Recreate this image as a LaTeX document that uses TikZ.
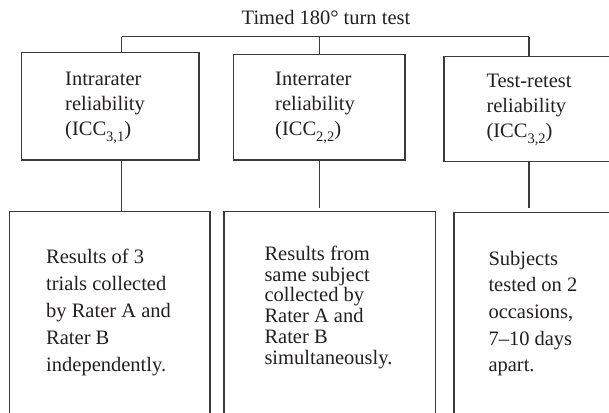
\documentclass[tikz,border=0pt]{standalone}
\usepackage{fontspec}
\setmainfont{Liberation Serif}
\definecolor{linegray}{HTML}{3A3A3A}
\definecolor{textgray}{HTML}{231F20}
% subscripted ICC label
\newcommand\iccsub[1]{(ICC\raisebox{-0.3em}{\fontsize{14.5}{14.5}\selectfont #1})}
% left-aligned text block whose reference point is its first baseline
\newcommand\txtblock[2]{\parbox[t]{170pt}{\raggedright\fontsize{20.5}{#1}\selectfont #2}}
\tikzset{
  box/.style={draw=linegray, line width=1.2pt, inner sep=0pt, outer sep=0pt, anchor=north west},
  lbl/.style={inner sep=0pt, anchor=base west, text=textgray},
  wire/.style={draw=linegray, line width=1.2pt},
}
\begin{document}
\begin{tikzpicture}[x=1pt, y=-1pt]
\clip (0,0) rectangle (609,412);
\fill[white] (0,0) rectangle (609,412);

% title
\node[lbl, anchor=base, font=\fontsize{20.5}{24}\selectfont] (title) at (326,25) {Timed 180° turn test};

% upper boxes
\node[box, minimum width=177.7pt, minimum height=107.3pt] (u1) at (21.3,52.7) {};
\node[box, minimum width=171.3pt, minimum height=105.7pt] (u2) at (233.7,54.3) {};
\node[box, minimum width=170pt,   minimum height=105.4pt] (u3) at (444,56.3) {};

% lower boxes (running off the bottom edge)
\node[box, minimum width=200.7pt, minimum height=230pt] (l1) at (9.3,211.7) {};
\node[box, minimum width=211.7pt, minimum height=230pt] (l2) at (224,211.7) {};
\node[box, minimum width=180pt,   minimum height=230pt] (l3) at (454,212.7) {};

% bus and its junctions
\coordinate (j1) at (121.6,36.7);
\coordinate (j2) at (319.3,36.7);
\coordinate (j3) at (529,36.7);
\draw[wire] (j1) -- (j3);
\draw[wire] (j1) -- (j1 |- u1.north);
\draw[wire] (j2) -- (j2 |- u2.north);
\draw[wire] (j3) -- (j3 |- u3.north);

% stems between the two rows
\coordinate (s1) at (121.2,160);
\coordinate (e2) at (319.3,208.3);
\coordinate (e3) at (529,208.3);
\draw[wire] (s1 |- u1.south) -- (s1 |- l1.north);
\draw[wire] (e2 |- u2.south) -- (e2);
\draw[wire] (e3 |- u3.south) -- (e3);

% upper texts
\node[lbl] (t1) at (65,85)    {\txtblock{25}{Intrarater\\reliability\\\iccsub{3,1}}};
\node[lbl] (t2) at (275,85)   {\txtblock{25}{Interrater\\reliability\\\iccsub{2,2}}};
\node[lbl] (t3) at (486.3,87.3) {\txtblock{25}{Test-retest\\reliability\\\iccsub{3,2}}};

% lower texts
\node[lbl] (b1) at (46,263.3)  {\txtblock{27.1}{Results of 3\\trials collected\\by Rater A and\\Rater B\\independently.}};
\node[lbl] (b2) at (264.3,260.5) {\txtblock{20.7}{Results from\\same subject\\collected by\\Rater A and\\Rater B\\simultaneously.}};
\node[lbl] (b3) at (488.3,265) {\txtblock{26.7}{Subjects\\tested on 2\\occasions,\\7–10 days\\apart.}};
\end{tikzpicture}
\end{document}
